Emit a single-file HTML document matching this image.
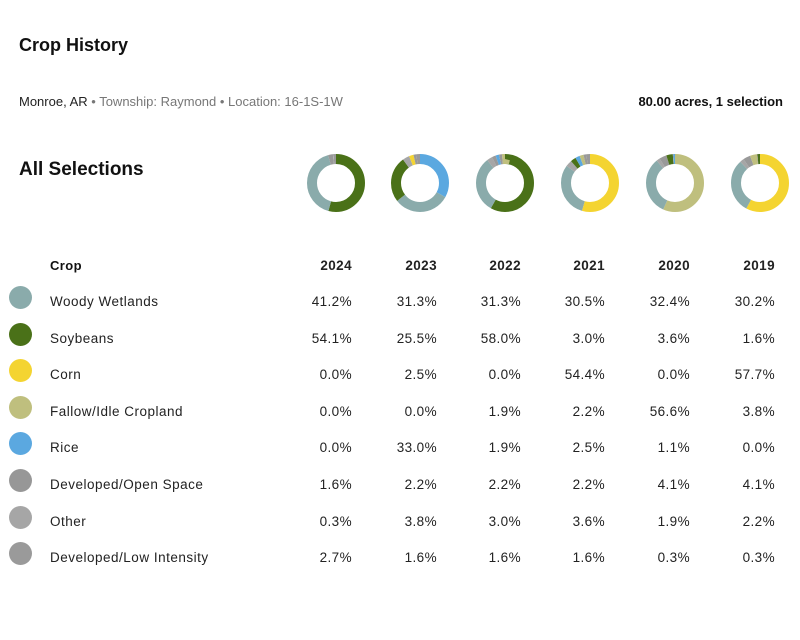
<!DOCTYPE html>
<html><head><meta charset="utf-8"><style>
body{margin:0;width:800px;height:640px;background:#fff;font-family:"Liberation Sans",Arial,sans-serif;color:#222;position:relative;overflow:hidden}
.a{position:absolute;white-space:nowrap}
h1{position:absolute;left:19px;top:35px;margin:0;font-size:18px;font-weight:bold;color:#111}
.sub{left:19px;top:94px;font-size:13px;color:#777}
.sub b{font-weight:normal;color:#222}
.acres{right:17px;top:94px;font-size:13px;font-weight:bold;color:#111}
.all{left:19px;top:159px;font-size:19px;font-weight:bold;color:#111}
.hd{font-size:13px;font-weight:bold;color:#111;letter-spacing:0.4px}
.c{font-size:13.5px;color:#222;letter-spacing:0.5px}
.n{font-size:13.5px;color:#222;letter-spacing:0.4px;text-align:right;width:70px}
.dot{position:absolute;left:9px;width:23px;height:23px;border-radius:50%}
</style></head><body>
<h1>Crop History</h1>
<div class="a sub"><b>Monroe, AR</b> • Township: Raymond • Location: 16-1S-1W</div>
<div class="a acres">80.00 acres, 1 selection</div>
<div class="a all">All Selections</div>
<svg id="d" class="a" style="left:0;top:0" width="800" height="240"></svg>

<div class="a hd" style="left:50px;top:258px">Crop</div>
<div class="a hd n" style="left:282px;top:258px">2024</div>
<div class="a hd n" style="left:367px;top:258px">2023</div>
<div class="a hd n" style="left:451px;top:258px">2022</div>
<div class="a hd n" style="left:535px;top:258px">2021</div>
<div class="a hd n" style="left:620px;top:258px">2020</div>
<div class="a hd n" style="left:705px;top:258px">2019</div>

<div id="rows"></div>
<script>
var rows=[["Woody Wetlands","#8aabab",["41.2%","31.3%","31.3%","30.5%","32.4%","30.2%"]],
["Soybeans","#4a7118",["54.1%","25.5%","58.0%","3.0%","3.6%","1.6%"]],
["Corn","#f4d431",["0.0%","2.5%","0.0%","54.4%","0.0%","57.7%"]],
["Fallow/Idle Cropland","#bfbf7e",["0.0%","0.0%","1.9%","2.2%","56.6%","3.8%"]],
["Rice","#5ba8e0",["0.0%","33.0%","1.9%","2.5%","1.1%","0.0%"]],
["Developed/Open Space","#979797",["1.6%","2.2%","2.2%","2.2%","4.1%","4.1%"]],
["Other","#a6a6a6",["0.3%","3.8%","3.0%","3.6%","1.9%","2.2%"]],
["Developed/Low Intensity","#9a9a9a",["2.7%","1.6%","1.6%","1.6%","0.3%","0.3%"]]];
var xs=[282,367,451,535,620,705],h="";
rows.forEach(function(r,i){var y=294+i*36.6;
h+='<div class="dot" style="top:'+(y-8)+'px;background:'+r[1]+'"></div>';
h+='<div class="a c" style="left:50px;top:'+y+'px">'+r[0]+'</div>';
r[2].forEach(function(v,j){h+='<div class="a n" style="left:'+xs[j]+'px;top:'+y+'px">'+v+'</div>';});});
document.getElementById('rows').innerHTML=h;
var W="#8aabab",S="#4a7118",C="#f4d431",F="#bfbf7e",R="#5ba8e0",G="#999",G2="#a6a6a6";
var donuts=[[[S,54.1],[W,41.2],[G,2.7],[G2,0.3],[G,1.6]],
[[R,33],[W,31.3],[S,25.5],[G2,3.8],[C,2.5],[G,1.6],[G,2.2]],
[[S,58],[W,31.3],[G2,3.0],[G,2.2],[R,1.9],[G,1.6],[F,1.9]],
[[C,54.4],[W,30.5],[G2,3.6],[S,3.0],[R,2.5],[F,2.2],[G,1.6],[G,2.2]],
[[F,56.6],[W,32.4],[G2,1.9],[G,4.1],[S,3.6],[G,0.3],[R,1.1]],
[[C,57.7],[W,30.2],[G2,2.2],[G,4.1],[F,3.8],[G,0.3],[S,1.6]]];
var cx=[336,420,505,590,675,760],s="",rr=24,L=2*Math.PI*rr;
donuts.forEach(function(d,i){var tot=d.reduce(function(a,b){return a+b[1]},0),acc=0;
d.forEach(function(p){var len=p[1]/tot*L;
s+='<circle cx="'+cx[i]+'" cy="183" r="'+rr+'" fill="none" stroke="'+p[0]+'" stroke-width="10" stroke-dasharray="'+len+' '+(L-len)+'" stroke-dashoffset="'+(-acc)+'" transform="rotate(-90 '+cx[i]+' 183)"/>';acc+=len;});});
document.getElementById('d').innerHTML=s;
</script>
</body></html>
